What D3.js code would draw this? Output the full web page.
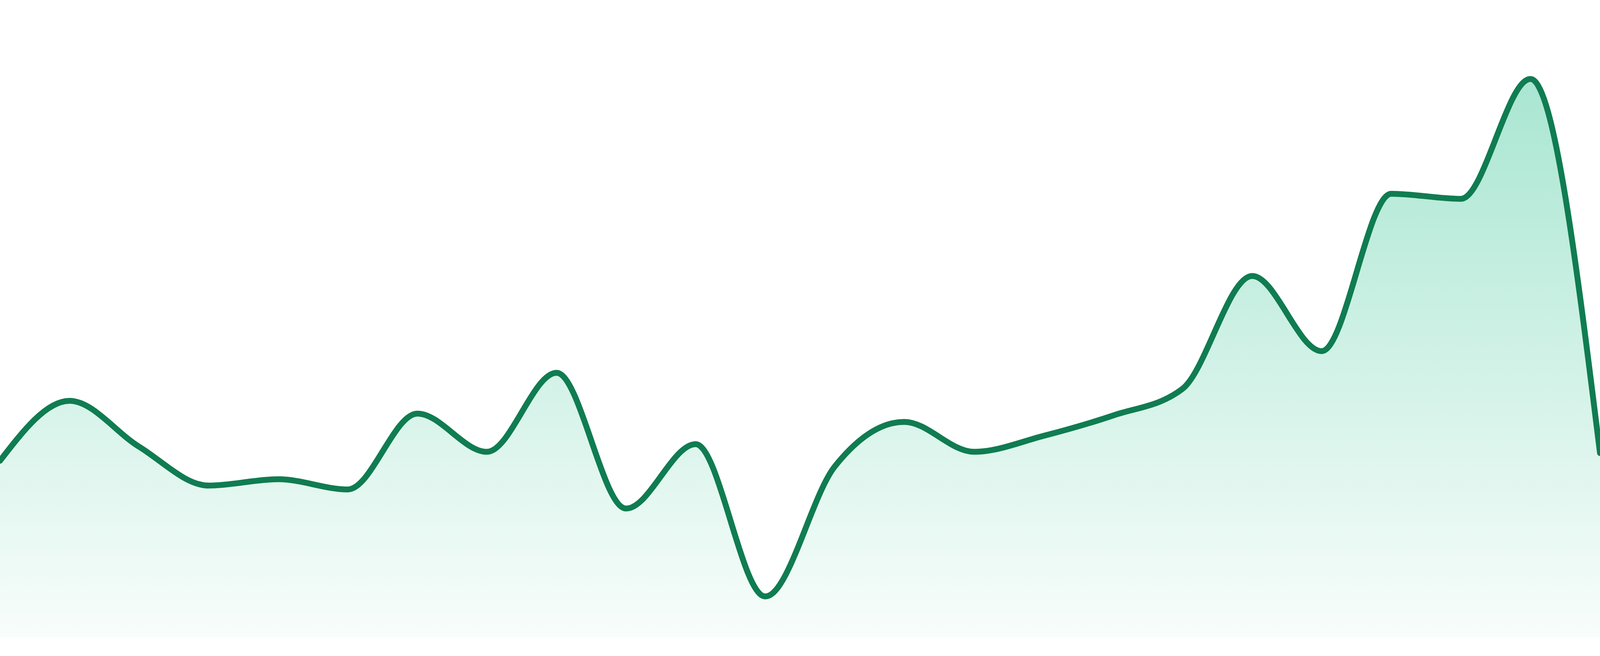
<!DOCTYPE html>
<html>
<head>
<meta charset="utf-8">
<script src="https://cdn.jsdelivr.net/npm/d3@7"></script>
<style>
  html, body { margin: 0; padding: 0; background: #ffffff; overflow: hidden; }
  svg { display: block; }
</style>
</head>
<body>
<div id="chart"></div>
<script>
// ---- data ----
const categories = d3.range(1, 25).map(d => "P" + d);
const values = [
  27.7, 37.1, 29.9, 23.8, 24.8, 23.2, 35.1, 29.1, 41.5, 20.2, 30.3, 6.4,
  26.8, 33.8, 29.1, 31.6, 34.8, 39.0, 56.7, 44.9, 69.6, 68.8, 87.6, 28.9
];
const yDomain = [0, 100];

// ---- layout (fills the viewport, proportions of a 4800x1680 design) ----
const width = window.innerWidth || 4800;
const height = window.innerHeight || 1680;
const k = height / 1680;
const margin = { top: 0, right: 0, bottom: 48 * k, left: 0 };

const svg = d3.select("#chart").append("svg")
  .attr("width", width)
  .attr("height", height);

const x = d3.scalePoint()
  .domain(categories)
  .range([margin.left, width - margin.right]);

const y = d3.scaleLinear()
  .domain(yDomain)
  .range([height - margin.bottom, margin.top]);

const data = categories.map((c, i) => ({ c, v: values[i] }));

const defs = svg.append("defs");
const grad = defs.append("linearGradient")
  .attr("id", "areaGrad")
  .attr("x1", 0).attr("y1", 0)
  .attr("x2", 0).attr("y2", 1);
grad.append("stop").attr("offset", "0%")
  .attr("stop-color", "#10b981").attr("stop-opacity", 0.36);
grad.append("stop").attr("offset", "100%")
  .attr("stop-color", "#10b981").attr("stop-opacity", 0.03);

const area = d3.area()
  .x(d => x(d.c))
  .y0(y(0))
  .y1(d => y(d.v))
  .curve(d3.curveMonotoneX);

const line = d3.line()
  .x(d => x(d.c))
  .y(d => y(d.v))
  .curve(d3.curveMonotoneX);

svg.append("path")
  .datum(data)
  .attr("d", area)
  .attr("fill", "url(#areaGrad)");

svg.append("path")
  .datum(data)
  .attr("d", line)
  .attr("fill", "none")
  .attr("stroke", "#107c52")
  .attr("stroke-width", 15 * k)
  .attr("stroke-linecap", "round")
  .attr("stroke-linejoin", "round");
</script>
</body>
</html>
